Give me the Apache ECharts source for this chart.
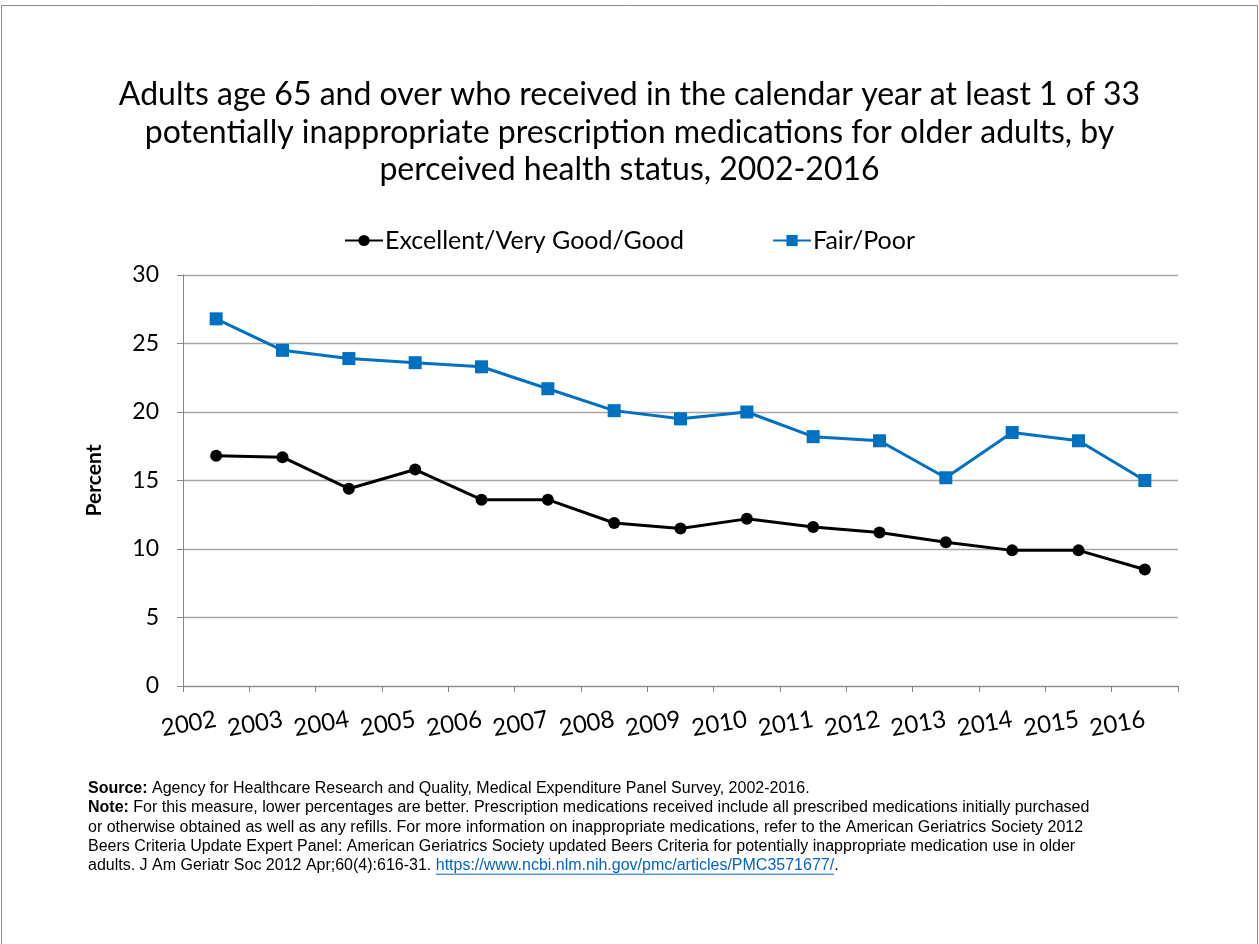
<!DOCTYPE html>
<html>
<head>
<meta charset="utf-8">
<script src="https://cdn.jsdelivr.net/npm/echarts@6/dist/echarts.min.js"></script>
<style>
html,body{margin:0;padding:0;background:#fff;}
#chart{width:1259px;height:944px;}
</style>
</head>
<body>
<div id="chart"></div>
<script>
const years = ['2002','2003','2004','2005','2006','2007','2008','2009','2010','2011','2012','2013','2014','2015','2016'];
const excellentGood = [16.8,16.7,14.4,15.8,13.6,13.6,11.9,11.5,12.2,11.6,11.2,10.5,9.9,9.9,8.5];
const fairPoor = [26.8,24.5,23.9,23.6,23.3,21.7,20.1,19.5,20.0,18.2,17.9,15.2,18.5,17.9,15.0];
const seriesNames = ['Excellent/Very Good/Good','Fair/Poor'];
const titleLines = [
  'Adults age 65 and over who received in the calendar year at least 1 of 33',
  'potentially inappropriate prescription medications for older adults, by',
  'perceived health status, 2002-2016'
];
const footLines = [
  ['Source:', ' Agency for Healthcare Research and Quality, Medical Expenditure Panel Survey, 2002-2016.'],
  ['Note:', ' For this measure, lower percentages are better. Prescription medications received include all prescribed medications initially purchased'],
  ['', 'or otherwise obtained as well as any refills. For more information on inappropriate medications, refer to the American Geriatrics Society 2012'],
  ['', 'Beers Criteria Update Expert Panel: American Geriatrics Society updated Beers Criteria for potentially inappropriate medication use in older'],
  ['', 'adults. J Am Geriatr Soc 2012 Apr;60(4):616-31. ']
];
const linkText = 'https://www.ncbi.nlm.nih.gov/pmc/articles/PMC3571677/';

const chart = echarts.init(document.getElementById('chart'));
const cal = 'Lato, "Open Sans", sans-serif';
const arial = '"Liberation Sans", Arial, sans-serif';
const footSize = 16;
const footLeft = 88, footTop = 780.5, footStep = 19.3;

const graphics = [
  {type:'rect', shape:{x:1.5,y:5.5,width:1256,height:960}, style:{fill:'none', stroke:'#8c8c8c', lineWidth:1}, silent:true}
];
titleLines.forEach((t,i)=>{
  graphics.push({type:'text', left:'center', top:79+i*37.5, style:{text:t, font:'32px '+cal, fill:'#000'}});
});
footLines.forEach((l,i)=>{
  const txt = (l[0] ? '{b|'+l[0]+'}' : '') + '{n|'+l[1]+'}' + (i===4 ? '{a|'+linkText+'}{n|.}' : '');
  graphics.push({type:'text', left:footLeft, top:footTop+i*footStep, style:{
    text: txt,
    rich:{
      b:{font:'bold '+footSize+'px '+arial, fill:'#000'},
      n:{font:footSize+'px '+arial, fill:'#000'},
      a:{font:footSize+'px '+arial, fill:'#0563C1'}
    }
  }});
});
// underline of the link, measured from the text itself
const ctx = document.createElement('canvas').getContext('2d');
ctx.font = footSize+'px '+arial;
const preW = ctx.measureText(footLines[4][1]).width;
const linkW = ctx.measureText(linkText).width;
const ulY = footTop + 4*footStep + footSize + 0.5;
graphics.push({type:'line', shape:{x1:footLeft+preW,y1:ulY,x2:footLeft+preW+linkW,y2:ulY}, style:{stroke:'#0563C1', lineWidth:1}});

chart.setOption({
  animation:false,
  backgroundColor:'#fff',
  graphic: graphics,
  legend:{
    top:223, left:'center', itemGap:88, itemWidth:38, itemHeight:14,
    textStyle:{fontFamily:cal, fontSize:25, color:'#000', padding:[0,0,0,-3]},
    data:seriesNames
  },
  grid:{left:183, right:81, top:275, bottom:258, containLabel:false},
  xAxis:{
    type:'category', data:years, boundaryGap:true,
    axisLine:{lineStyle:{color:'#868686', width:1}},
    axisTick:{show:true, length:6, lineStyle:{color:'#868686'}},
    axisLabel:{rotate:10, fontFamily:cal, fontSize:24, color:'#000', margin:33, interval:0}
  },
  yAxis:{
    type:'value', min:0, max:30, interval:5,
    name:'Percent', nameLocation:'middle', nameGap:78,
    nameTextStyle:{fontFamily:cal, fontSize:21, fontWeight:'bold', color:'#000'},
    axisLine:{show:true, lineStyle:{color:'#868686'}},
    axisTick:{show:true, length:6, inside:false, lineStyle:{color:'#868686'}},
    axisLabel:{fontFamily:cal, fontSize:23, color:'#000', margin:24},
    splitLine:{lineStyle:{color:'#A6A6A6', width:1.3}}
  },
  series:[
    {name:seriesNames[0], type:'line', data:excellentGood, symbol:'circle', symbolSize:12,
     lineStyle:{color:'#000', width:3}, itemStyle:{color:'#000'}},
    {name:seriesNames[1], type:'line', data:fairPoor, symbol:'rect', symbolSize:13,
     lineStyle:{color:'#0070C0', width:3}, itemStyle:{color:'#0070C0'}}
  ]
});
</script>
</body>
</html>
